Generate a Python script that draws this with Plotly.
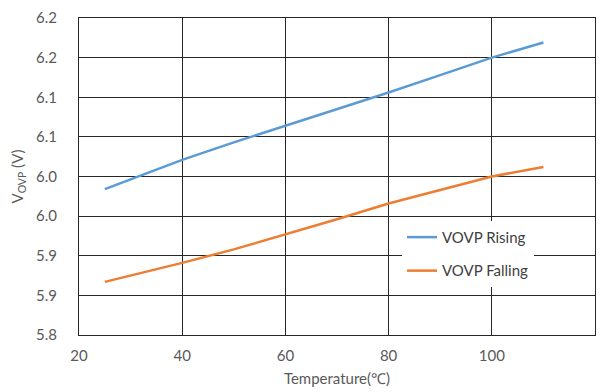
import plotly.graph_objects as go

# Temperature sweep (°C)
temperature = [25, 30, 40, 50, 60, 70, 80, 90, 100, 110]

# Over-voltage protection thresholds (V)
vovp_rising = [5.984, 5.996, 6.021, 6.043, 6.064, 6.085, 6.106, 6.128, 6.150, 6.169]
vovp_falling = [5.867, 5.875, 5.891, 5.908, 5.927, 5.946, 5.966, 5.983, 6.000, 6.012]

# Y-axis ticks (labels shown with one decimal)
y_tickvals = [5.8, 5.85, 5.9, 5.95, 6.0, 6.05, 6.1, 6.15, 6.2]
y_ticktext = ["5.8", "5.9", "5.9", "6.0", "6.0", "6.1", "6.1", "6.2", "6.2"]
x_tickvals = [20, 40, 60, 80, 100, 120]

FONT = "Lato"
GRID = "#262626"
TEXT = "#595959"

fig = go.Figure()
fig.add_trace(go.Scatter(
    x=temperature, y=vovp_rising, mode="lines", name="VOVP Rising",
    line=dict(color="#5B9BD5", width=2.5), legendgroup="r",
))
fig.add_trace(go.Scatter(
    x=temperature, y=vovp_falling, mode="lines", name="VOVP Falling",
    line=dict(color="#ED7D31", width=2.5), legendgroup="f",
))

fig.update_layout(
    width=608, height=392,
    margin=dict(l=79, r=13, t=18, b=57, autoexpand=False),
    paper_bgcolor="white", plot_bgcolor="white",
    font=dict(family=FONT, size=15, color=TEXT),
    showlegend=True,
    legend=dict(
        x=0.626, y=0.36, xanchor="left", yanchor="top",
        bgcolor="white", borderwidth=0,
        font=dict(family=FONT, size=15, color="#404040"),
        tracegroupgap=11, traceorder="grouped",
    ),
)

fig.update_xaxes(
    range=[20, 120], tickvals=x_tickvals, automargin=False,
    showgrid=True, gridcolor=GRID, gridwidth=1,
    showline=True, linecolor=GRID, linewidth=1, mirror=True,
    zeroline=False, ticks="", ticklabelstandoff=7,
    tickfont=dict(family=FONT, size=15, color=TEXT),
    title=dict(text="Temperature(℃)", font=dict(family=FONT, size=15, color=TEXT), standoff=10),
)
fig.update_yaxes(
    range=[5.8, 6.2], tickvals=y_tickvals, ticktext=y_ticktext, automargin=False,
    showgrid=True, gridcolor=GRID, gridwidth=1,
    showline=True, linecolor=GRID, linewidth=1, mirror=True,
    zeroline=False, ticks="", ticklabelstandoff=18,
    tickfont=dict(family=FONT, size=15, color=TEXT),
    title=dict(text="V<sub>OVP</sub> (V)", font=dict(family=FONT, size=15, color=TEXT), standoff=8),
)

fig.write_html("out.html")
